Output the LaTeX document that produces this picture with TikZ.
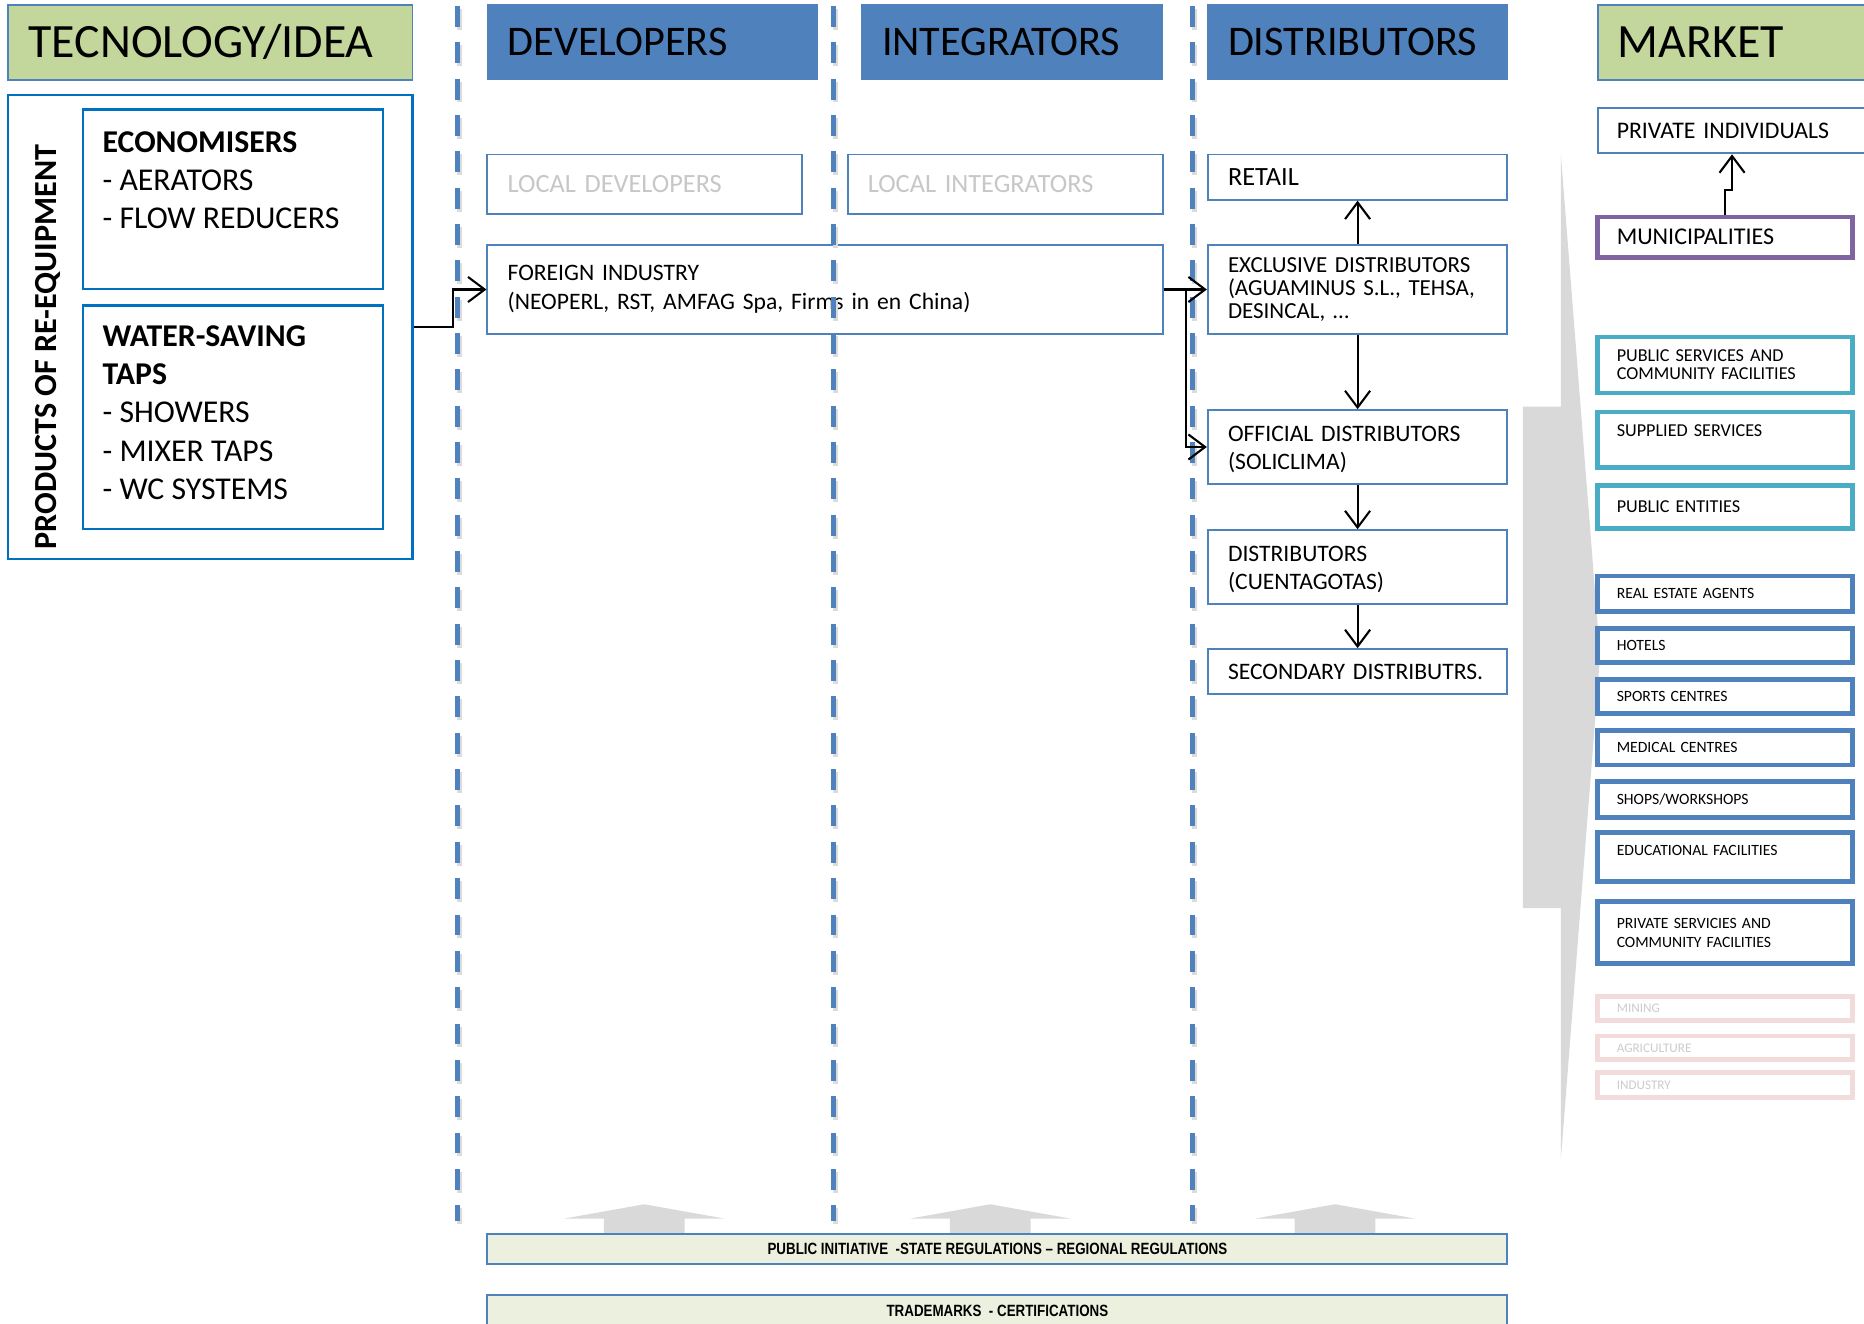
\documentclass[tikz,border=0pt]{standalone}
\usepackage{fontspec}
\setmainfont{Carlito}
\newfontfamily\barfont[FakeStretch=0.82]{Liberation Sans}
\usepackage{xcolor}
\usepackage{tikz}
\usetikzlibrary{arrows.meta,positioning,calc}
\definecolor{headblue}{RGB}{79,129,189}
\definecolor{headgreen}{RGB}{195,214,155}
\definecolor{prodblue}{RGB}{0,112,192}
\definecolor{tealline}{RGB}{75,172,198}
\definecolor{purpleline}{RGB}{128,100,162}
\definecolor{pinkline}{RGB}{242,220,219}
\definecolor{shapegray}{RGB}{217,217,217}
\definecolor{barfill}{RGB}{235,241,222}
\newcommand{\pxu}{0.02cm}
\newcommand{\setfs}[2]{\fontsize{#1}{#2}\selectfont}

\begin{document}
\begin{tikzpicture}[x=0.02cm, y=-0.02cm]
    \tikzstyle{bluehead} = [rectangle, fill=headblue, draw=headblue, minimum height=63*\pxu, inner xsep=17*\pxu, align=left, font=\setfs{20.2}{24}]
    \tikzstyle{greenhead} = [rectangle, fill=headgreen, draw=headblue, line width=0.9pt, minimum height=63*\pxu, inner xsep=17*\pxu, align=left, font=\setfs{22.9}{26}]
    \tikzstyle{prodbox} = [rectangle, draw=prodblue, line width=1.1pt, minimum width=252*\pxu]
    \tikzstyle{prodtext} = [inner sep=0pt, anchor=north west, align=left, font=\setfs{15.2}{18.2}]
    \tikzstyle{chainbox} = [rectangle, draw=headblue, line width=0.9pt, fill=white, text width=218*\pxu, inner xsep=17*\pxu, align=left, font=\setfs{11.3}{13.7}]
    \tikzstyle{twoline} = [chainbox, minimum height=62*\pxu, text depth=13pt]
    \tikzstyle{mbox} = [rectangle, draw=headblue, fill=white, text width=182*\pxu, inner xsep=16*\pxu, align=left]
    \tikzstyle{tealbox} = [mbox, draw=tealline, line width=2.3pt, font=\setfs{8.7}{8.8}]
    \tikzstyle{segbox} = [mbox, line width=2.3pt, font=\setfs{7.5}{9.1}]
    \tikzstyle{fadebox} = [mbox, draw=pinkline, line width=2.3pt, text=black!20, font=\setfs{6.3}{7}]
    \tikzstyle{bar} = [rectangle, draw=headblue, line width=1pt, fill=barfill, minimum width=858*\pxu, font=\barfont\bfseries\setfs{7.8}{9}]
    \tikzstyle{arr} = [line width=1pt, -{Straight Barb[length=8pt,width=12pt]}]
    \tikzstyle{lane} = [headblue, line width=2.4pt, dash pattern=on 10pt off 7.4pt]
    \tikzstyle{laneshadow} = [black!14, line width=2.4pt, dash pattern=on 10pt off 7.4pt]

    \useasboundingbox (0,0) rectangle (1568,1113);

    % Column heads
    \node[greenhead, text width=306*\pxu] (tech) at (177,35.5) {TECNOLOGY/IDEA};
    \node[bluehead, text width=244*\pxu] (dev) at (549,35.5) {DEVELOPERS};
    \node[bluehead, text width=219*\pxu] (integ) at (851.5,35.5) {INTEGRATORS};
    \node[bluehead, text width=218*\pxu] (distrib) at (1142,35.5) {DISTRIBUTORS};
    \node[greenhead, text width=202*\pxu] (market) at (1462,35.5) {MARKET};

    % Products
    \node[draw=prodblue, line width=1.1pt, minimum width=340*\pxu, minimum height=390*\pxu] (prod) at (177,275) {};
    \node[rotate=90, font=\bfseries\setfs{15.4}{18}] (prodlabel) at (40,292) {PRODUCTS OF RE-EQUIPMENT};
    \node[prodbox, minimum height=151*\pxu] (eco) at (196,167.5) {};
    \node[prodtext] (ecotext) at (86,110) {\textbf{ECONOMISERS}\\- AERATORS\\- FLOW REDUCERS};
    \node[prodbox, minimum height=188*\pxu] (taps) at (196,351) {};
    \node[prodtext] (tapstext) at (86,274) {\textbf{WATER-SAVING}\\\textbf{TAPS}\\- SHOWERS\\- MIXER TAPS\\- WC SYSTEMS};

    % Developers and integrators
    \node[chainbox, text width=231*\pxu, minimum height=50*\pxu, text=black!22, font=\setfs{12.6}{14}] (localdev) at (542.5,155) {LOCAL DEVELOPERS};
    \node[chainbox, text width=231*\pxu, minimum height=50*\pxu, text=black!22, font=\setfs{12.6}{14}] (localint) at (845.5,155) {LOCAL INTEGRATORS};
    \node[chainbox, text width=534*\pxu, minimum height=75*\pxu] (foreign) at (694,243.5) {FOREIGN INDUSTRY\\(NEOPERL, RST, AMFAG Spa, Firms in en China)};

    % Distribution chain
    \node[chainbox, minimum height=38*\pxu, font=\setfs{12.6}{14}] (retail) at (1142,149) {RETAIL};
    \node[chainbox, minimum height=75*\pxu, font=\setfs{11}{11.2}] (excl) at (1142,243.5) {EXCLUSIVE DISTRIBUTORS\\(AGUAMINUS S.L., TEHSA,\\DESINCAL, …};
    \node[twoline] (offic) at (1142,376) {OFFICIAL DISTRIBUTORS\\(SOLICLIMA)};
    \node[twoline] (local) at (1142,477) {DISTRIBUTORS\\(CUENTAGOTAS)};
    \node[chainbox, minimum height=38*\pxu] (second) at (1142,565) {SECONDARY DISTRIBUTRS.};

    % Market
    \fill[shapegray] (1281,342) -- (1313,342) -- (1313,130) -- (1346,552) -- (1313,975) -- (1313,764) -- (1281,764) -- cycle;
    \node[mbox, text width=204*\pxu, minimum height=38*\pxu, line width=0.9pt, font=\setfs{11.4}{13}] (indiv) at (1462,110) {PRIVATE INDIVIDUALS};
    \node[mbox, draw=purpleline, line width=2.3pt, minimum height=34*\pxu, font=\setfs{11.5}{13}] (muni) at (1451,199.5) {MUNICIPALITIES};
    \node[tealbox, minimum height=47*\pxu] (pubserv) at (1451,307) {PUBLIC SERVICES AND\\COMMUNITY FACILITIES};
    \node[tealbox, minimum height=47*\pxu, text depth=9pt] (supplied) at (1451,370) {SUPPLIED SERVICES};
    \node[tealbox, minimum height=36*\pxu] (pubent) at (1451,426.5) {PUBLIC ENTITIES};
    \node[segbox, minimum height=30*\pxu] (realest) at (1451,499.5) {REAL ESTATE AGENTS};
    \node[segbox, minimum height=29*\pxu] (hotels) at (1451,543) {HOTELS};
    \node[segbox, minimum height=29*\pxu] (sports) at (1451,586) {SPORTS CENTRES};
    \node[segbox, minimum height=29*\pxu] (medical) at (1451,629) {MEDICAL CENTRES};
    \node[segbox, minimum height=30*\pxu] (shops) at (1451,672.5) {SHOPS/WORKSHOPS};
    \node[segbox, minimum height=41*\pxu, text depth=6pt] (edu) at (1451,721) {EDUCATIONAL FACILITIES};
    \node[segbox, minimum height=52*\pxu] (privserv) at (1451,784.5) {PRIVATE SERVICIES AND\\COMMUNITY FACILITIES};
    \node[fadebox, minimum height=20*\pxu] (mining) at (1451,848.5) {MINING};
    \node[fadebox, minimum height=20*\pxu] (agri) at (1451,881.5) {AGRICULTURE};
    \node[fadebox, minimum height=21*\pxu] (industry) at (1451,913) {INDUSTRY};

    % Regulation bars
    \foreach \cx in {542,833,1123}
        \fill[shapegray] (\cx-67,1025) -- (\cx,1013) -- (\cx+67,1025) -- (\cx+34,1025) -- (\cx+34,1039) -- (\cx-34,1039) -- (\cx-34,1025) -- cycle;
    \node[bar, minimum height=25*\pxu] (rules) at (839,1050.5) {PUBLIC INITIATIVE\ \ -STATE REGULATIONS – REGIONAL REGULATIONS};
    \node[bar, minimum height=27*\pxu] (marks) at (839,1102.5) {TRADEMARKS\ \ - CERTIFICATIONS};

    % Lanes
    \foreach \x in {385,701,1003} {
        \draw[laneshadow] (\x+1.5,7.5) -- (\x+1.5,1029.5);
        \draw[lane] (\x,5) -- (\x,1027);
    }

    % Arrows
    \draw[arr] (prod.east) -- ++(33,0) |- (foreign.west);
    \draw[arr] (foreign.east) -- (excl.west);
    \draw[arr] (foreign.east) -- ++(19,0) |- (offic.west);
    \draw[arr] (excl.north) -- (retail.south);
    \draw[arr] (excl.south) -- (offic.north);
    \draw[arr] (offic.south) -- (local.north);
    \draw[arr] (local.south) -- (second.north);
    \coordinate (jog) at ([shift={(6,-21)}]muni.north);
    \draw[arr] (muni.north) -- ++(0,-21) -- (jog) -- (jog |- indiv.south);
\end{tikzpicture}
\end{document}
